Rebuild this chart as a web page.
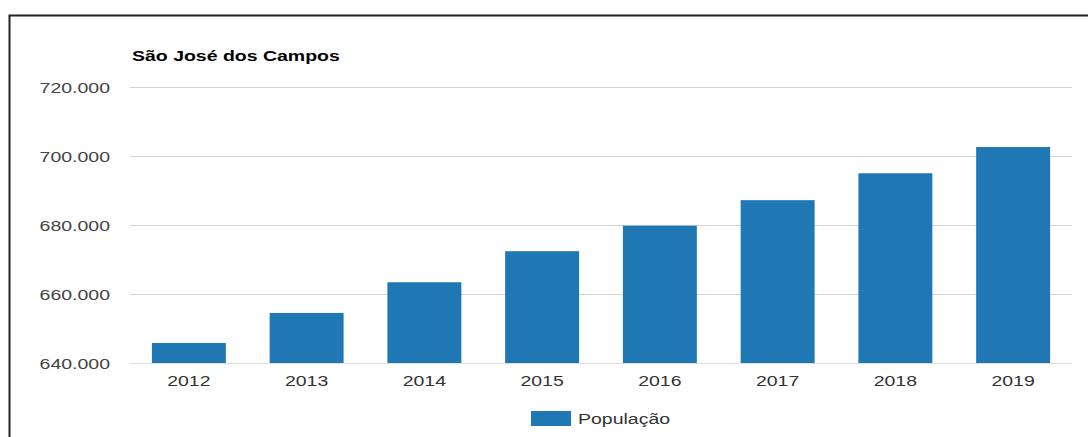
<!DOCTYPE html>
<html>
<head>
<meta charset="utf-8">
<script src="https://cdn.jsdelivr.net/npm/d3@7"></script>
<style>
  html, body { margin: 0; padding: 0; background: #fff; }
  svg { display: block; font-family: "Liberation Sans", Arial, sans-serif; }
</style>
</head>
<body>
<div id="chart"></div>
<script>
const title = "São José dos Campos";
const years = ["2012", "2013", "2014", "2015", "2016", "2017", "2018", "2019"];
const population = [645800, 654500, 663400, 672400, 679800, 687200, 695000, 702600];
const yTicks = [640000, 660000, 680000, 700000, 720000];
const seriesName = "População";

const width = 1088,
  height = 437,
  margin = { left: 130, right: 16, top: 87, bottom: 74 };

// text in the reference is stretched horizontally
const sx = 1.3;
const barColor = "#1f77b4";

const svg = d3
  .select("#chart")
  .append("svg")
  .attr("width", width)
  .attr("height", height);

// frame (top and left edges only visible)
svg
  .append("path")
  .attr("d", `M9.5,${height} V15.5 H${width}`)
  .attr("fill", "none")
  .attr("stroke", "#222")
  .attr("stroke-width", 2);

let x = d3
  .scaleBand()
  .domain(years)
  .range([margin.left, width - margin.right])
  .paddingInner(0.372)
  .paddingOuter(0.186);

let y = d3
  .scaleLinear()
  .domain([640000, 720000])
  .range([height - margin.bottom, margin.top]);

const locale = d3.formatLocale({ decimal: ",", thousands: ".", grouping: [3], currency: ["R$", ""] });
const fmt = locale.format(",.0f");

// gridlines
svg
  .append("g")
  .selectAll("line")
  .data(yTicks)
  .enter()
  .append("line")
  .attr("x1", margin.left)
  .attr("x2", width - margin.right)
  .attr("y1", d => Math.round(y(d)) + 0.5)
  .attr("y2", d => Math.round(y(d)) + 0.5)
  .attr("stroke", (d, i) => (i === 0 ? "#dedede" : "#d3d3d3"))
  .attr("stroke-width", 1.2);

// y labels
svg
  .append("g")
  .selectAll("text")
  .data(yTicks)
  .enter()
  .append("text")
  .attr("transform", d => `translate(110, ${y(d) + 5.5}) scale(${sx},1)`)
  .attr("text-anchor", "end")
  .attr("font-size", 15)
  .attr("fill", "#444")
  .text(d => fmt(d));

// bars
svg
  .append("g")
  .selectAll("rect")
  .data(population)
  .enter()
  .append("rect")
  .attr("x", (d, i) => x(years[i]))
  .attr("width", x.bandwidth())
  .attr("y", d => y(d))
  .attr("height", d => y(640000) - y(d))
  .attr("fill", barColor);

// x labels
svg
  .append("g")
  .selectAll("text")
  .data(years)
  .enter()
  .append("text")
  .attr("transform", d => `translate(${x(d) + x.bandwidth() / 2}, 386) scale(${sx},1)`)
  .attr("text-anchor", "middle")
  .attr("font-size", 15)
  .attr("fill", "#333")
  .text(d => d);

// title
svg
  .append("text")
  .attr("transform", `translate(132, 61) scale(${sx},1)`)
  .attr("font-size", 15)
  .attr("font-weight", "bold")
  .attr("fill", "#000")
  .text(title);

// legend
const legend = svg.append("g");
legend
  .append("rect")
  .attr("x", 531)
  .attr("y", 411)
  .attr("width", 40)
  .attr("height", 15)
  .attr("fill", barColor);
legend
  .append("text")
  .attr("transform", `translate(578, 423.5) scale(${sx},1)`)
  .attr("font-size", 15)
  .attr("fill", "#333")
  .text(seriesName);
</script>
</body>
</html>
